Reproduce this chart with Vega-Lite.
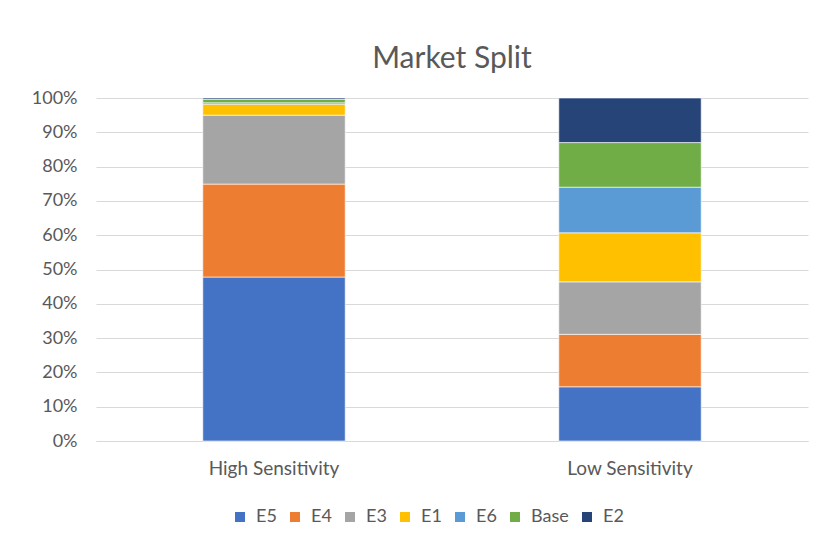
{
  "$schema": "https://vega.github.io/schema/vega-lite/v6.json",
  "width": 712,
  "height": 343,
  "autosize": {"type": "none"},
  "padding": {"left": 96, "top": 98, "right": 13, "bottom": 105},
  "background": "#ffffff",
  "title": {
    "text": "Market Split",
    "fontSize": 30,
    "font": "Lato",
    "fontWeight": "normal",
    "color": "#595959",
    "anchor": "middle",
    "offset": 15
  },
  "data": {
    "values": [
      {"category": "High Sensitivity", "series": "E5", "rank": 1, "value": 47.8},
      {"category": "High Sensitivity", "series": "E4", "rank": 2, "value": 27.1},
      {"category": "High Sensitivity", "series": "E3", "rank": 3, "value": 20.1},
      {"category": "High Sensitivity", "series": "E1", "rank": 4, "value": 3.2},
      {"category": "High Sensitivity", "series": "E6", "rank": 5, "value": 0.4},
      {"category": "High Sensitivity", "series": "Base", "rank": 6, "value": 1.0},
      {"category": "High Sensitivity", "series": "E2", "rank": 7, "value": 0.4},
      {"category": "Low Sensitivity", "series": "E5", "rank": 1, "value": 15.8},
      {"category": "Low Sensitivity", "series": "E4", "rank": 2, "value": 15.3},
      {"category": "Low Sensitivity", "series": "E3", "rank": 3, "value": 15.3},
      {"category": "Low Sensitivity", "series": "E1", "rank": 4, "value": 14.3},
      {"category": "Low Sensitivity", "series": "E6", "rank": 5, "value": 13.3},
      {"category": "Low Sensitivity", "series": "Base", "rank": 6, "value": 13.0},
      {"category": "Low Sensitivity", "series": "E2", "rank": 7, "value": 13.0}
    ]
  },
  "mark": {"type": "bar", "stroke": "#ffffff", "strokeWidth": 0.6},
  "encoding": {
    "x": {
      "field": "category",
      "type": "nominal",
      "scale": {"paddingInner": 0.6, "paddingOuter": 0.3},
      "axis": {
        "title": null,
        "labelAngle": 0,
        "labelPadding": 18,
        "ticks": false,
        "domain": true,
        "domainColor": "#d9d9d9",
        "labelFontSize": 19,
        "labelFont": "Lato",
        "labelColor": "#595959"
      }
    },
    "y": {
      "field": "value",
      "type": "quantitative",
      "stack": "normalize",
      "scale": {"domain": [0, 1]},
      "axis": {
        "title": null,
        "format": ".0%",
        "values": [0, 0.1, 0.2, 0.3, 0.4, 0.5, 0.6, 0.7, 0.8, 0.9, 1],
        "labelOverlap": false,
        "ticks": false,
        "domain": false,
        "grid": true,
        "gridColor": "#d9d9d9",
        "gridWidth": 1,
        "labelPadding": 19,
        "labelFontSize": 18,
        "labelFont": "Lato",
        "labelColor": "#595959"
      }
    },
    "color": {
      "field": "series",
      "type": "nominal",
      "sort": ["E5", "E4", "E3", "E1", "E6", "Base", "E2"],
      "scale": {
        "domain": ["E5", "E4", "E3", "E1", "E6", "Base", "E2"],
        "range": ["#4472C4", "#ED7D31", "#A5A5A5", "#FFC000", "#5B9BD5", "#70AD47", "#264478"]
      },
      "legend": {
        "title": null,
        "orient": "none",
        "direction": "horizontal",
        "gridAlign": "none",
        "legendX": 135,
        "legendY": 410,
        "symbolType": "square",
        "symbolSize": 100,
        "symbolStrokeWidth": 0,
        "labelFontSize": 18,
        "labelFont": "Lato",
        "labelColor": "#595959",
        "columnPadding": 9,
        "labelOffset": 7
      }
    },
    "order": {"field": "rank", "type": "quantitative", "sort": "ascending"}
  },
  "config": {
    "view": {"stroke": null}
  }
}
